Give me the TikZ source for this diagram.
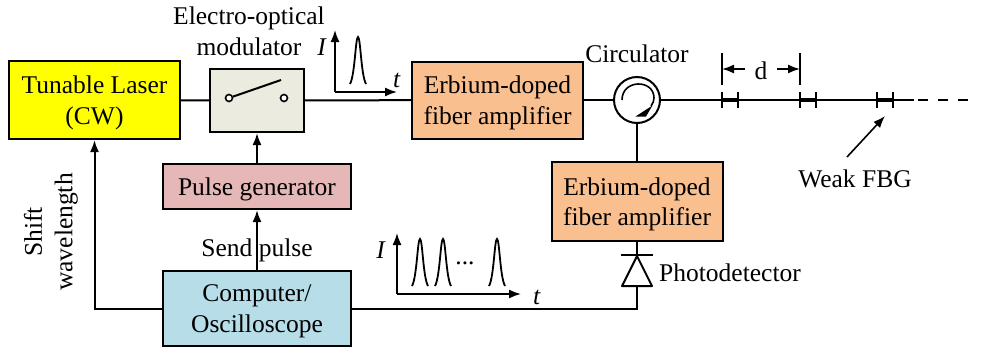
\documentclass[tikz,border=0pt]{standalone}
\usepackage{fontspec}
\setmainfont{Liberation Serif}
\usetikzlibrary{arrows.meta,calc}
\definecolor{laser col}{RGB}{255,255,0}
\definecolor{switch col}{RGB}{236,235,224}
\definecolor{amp col}{RGB}{250,191,143}
\definecolor{pulse col}{RGB}{229,184,183}
\definecolor{comp col}{RGB}{183,221,232}
\tikzstyle{box} = [draw,line width=2pt,align=center,inner sep=0pt,text depth=0pt]
\tikzstyle{wire} = [line width=2pt]
\tikzstyle{tip wire} = [line width=2pt,-{Latex[length=12pt,width=9pt]}]
\tikzstyle{axis} = [line width=1.6pt,-{Latex[length=12pt,width=9pt]}]
\tikzstyle{label text} = [inner sep=0pt,align=center]
\newcommand{\onepulse}[2]{% centre x, base y
    \draw[line width=1.8pt] (#1-8,#2) .. controls (#1-3,#2-9) and (#1-2.5,#2-47) .. (#1,#2-47)
        .. controls (#1+2.5,#2-47) and (#1+3,#2-9) .. (#1+8,#2);
}

\begin{document}
\begin{tikzpicture}[x=1pt,y=-1pt,font=\fontsize{25.5}{30.5}\selectfont]
\useasboundingbox (0,0) rectangle (997,354);

    % boxes
    \node(laser)[box,fill=laser col,minimum width=171,minimum height=78] at (94.5,100){Tunable Laser\\(CW)};
    \node(eom)[box,fill=switch col,minimum width=94,minimum height=63] at (257,100.5){};
    \node(edfa1)[box,fill=amp col,minimum width=171,minimum height=77] at (497.5,100){Erbium-doped\\fiber amplifier};
    \node(edfa2)[box,fill=amp col,minimum width=171,minimum height=79] at (637,201.5){Erbium-doped\\fiber amplifier};
    \node(pulse)[box,fill=pulse col,minimum width=188,minimum height=45] at (257,186.5){Pulse generator};
    \node(comp)[box,fill=comp col,minimum width=188,minimum height=75] at (257,308.5){Computer/\\Oscilloscope};
    \node(circ)[circle,draw,line width=2pt,minimum size=46,inner sep=0pt] at (637,100){};

    % switch
    \node(swa)[circle,draw,line width=1.6pt,fill=white,minimum size=7,inner sep=0pt] at (229,98){};
    \node(swb)[circle,draw,line width=1.6pt,fill=white,minimum size=7,inner sep=0pt] at (284,98){};
    \coordinate(swc) at (281,80);
    \draw[wire] (swa)--(swc);

    % circulator arrow
    \coordinate(circstart) at (622,100);
    \coordinate(circend) at (651,106);
    \draw[line width=1.6pt] (circstart) .. controls (622,79) and (654,79) .. (654,98) .. controls (654,101) and (653,103) .. (circend);
    \fill (635.5,116.5)--(652.5,105.5)--(646,116.5)--cycle;

    % connections
    \draw[wire] (laser)--(eom);
    \draw[wire] (eom)--(edfa1);
    \draw[wire] (edfa1)--(circ);
    \draw[wire] (circ)--(edfa2);
    \draw[tip wire] (pulse)--(eom);
    \draw[tip wire] (comp)--(pulse);
    \draw[tip wire] (comp.west)-|(laser.south);

    % photodetector
    \coordinate(pdtop) at (637,256);
    \coordinate(pdleft) at (622,286);
    \coordinate(pdright) at (652,286);
    \coordinate(barleft) at (621,255);
    \coordinate(barright) at (653,255);
    \draw[wire,line join=round] (pdtop)--(pdleft)--(pdright)--cycle;
    \draw[wire] (barleft)--(barright);
    \draw[wire] (edfa2.south)--(pdtop);
    \coordinate(pdbase) at (637,286);
    \draw[wire] (comp.east)-|(pdbase);

    % fiber with gratings
    \coordinate(fiberend) at (914,100);
    \coordinate(dashstart) at (918,100);
    \coordinate(dashend) at (970,100);
    \draw[wire] (circ)--(fiberend);
    \draw[wire,dash pattern=on 10pt off 10pt] (dashstart)--(dashend);
    \foreach \x in {722,800,877}{
        \draw[line width=4.5pt] (\x,100)--(\x+16,100);
        \draw[line width=1.6pt] (\x,92)--(\x,108);
        \draw[line width=1.6pt] (\x+16,92)--(\x+16,108);
    }

    % spacing d
    \coordinate(da) at (722,53);
    \coordinate(db) at (722,85);
    \coordinate(dc) at (800,53);
    \coordinate(dd) at (800,85);
    \draw[line width=1.6pt] (da)--(db);
    \draw[line width=1.6pt] (dc)--(dd);
    \node(dlabel)[label text] at (761,71){d};
    \coordinate(dl) at (745,69);
    \coordinate(dr) at (777,69);
    \coordinate(dla) at (722,69);
    \coordinate(dra) at (800,69);
    \draw[axis] (dl)--(dla);
    \draw[axis] (dr)--(dra);

    % weak FBG
    \node(fbg)[label text] at (855,179){Weak FBG};
    \coordinate(fbgfrom) at (847,157);
    \coordinate(fbgto) at (885,116);
    \draw[axis] (fbgfrom)--(fbgto);

    % first trace
    \coordinate(oa) at (335,92);
    \coordinate(oay) at (335,30);
    \coordinate(oax) at (397,92);
    \draw[axis] (oa)--(oay);
    \draw[axis] (oa)--(oax);
    \onepulse{358}{84}
    \node(ia)[label text] at (322,47){\textit{I}};
    \node(ta)[label text] at (397,80){\textit{t}};

    % second trace
    \coordinate(ob) at (397,294);
    \coordinate(oby) at (397,233);
    \coordinate(obx) at (521,294);
    \draw[axis] (ob)--(oby);
    \draw[axis] (ob)--(obx);
    \foreach \x in {420,443,497}{
        \onepulse{\x}{286}
    }
    \node(dots)[label text] at (465,263){...};
    \node(ib)[label text] at (381,250){\textit{I}};
    \node(tb)[label text] at (537,297){\textit{t}};

    % labels
    \node(eomlabel)[label text] at (249,31.5){Electro-optical\\modulator};
    \node(circlabel)[label text] at (637,54){Circulator};
    \node(pdlabel)[label text,anchor=west] at (659,273){Photodetector};
    \node(sendlabel)[label text] at (257,250){Send pulse};
    \node(shiftlabel)[label text,rotate=90] at (51,232){Shift\\wavelength};

\end{tikzpicture}
\end{document}
